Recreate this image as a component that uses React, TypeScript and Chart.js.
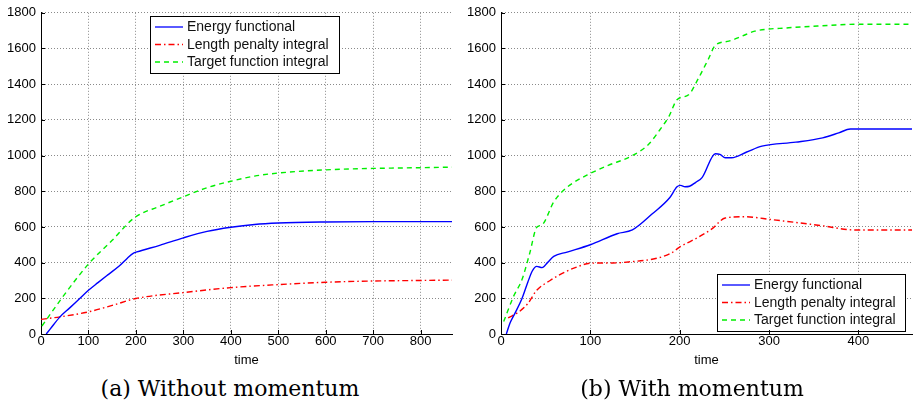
import React, { useEffect, useRef } from "react";
import { Chart, registerables } from "chart.js";

Chart.register(...registerables);

// ---- (a) Without momentum ----
const aEnergyT = [11, 20, 40, 60, 80, 100, 120, 140, 166, 182, 195, 202, 250, 300, 350, 400, 450, 500, 600, 700, 866];
const aEnergyV = [0, 30, 96, 145, 195, 245, 288, 330, 384, 425, 453, 460, 497, 539, 575, 598, 614, 622, 628, 630, 630];
const aLengthT = [0, 40, 100, 150, 200, 300, 400, 500, 600, 700, 800, 866];
const aLengthV = [82, 96, 124, 160, 199, 232, 260, 277, 290, 297, 300, 302];
const aTargetT = [2, 45, 100, 150, 198, 250, 300, 350, 400, 450, 500, 600, 700, 800, 866];
const aTargetV = [45, 205, 392, 525, 654, 715, 769, 820, 856, 885, 902, 920, 928, 932, 935];

// ---- (b) With momentum ----
const bEnergyT = [6, 10, 15, 23.5, 30, 35, 40, 46, 52, 59, 74, 100, 130, 147, 169, 189, 197, 201, 206, 211, 218, 225, 240, 245, 251, 258, 275, 292, 330, 360, 378, 391, 460];
const bEnergyV = [0, 60, 110, 199, 290, 353, 379, 372, 400, 435, 459, 500, 562, 583, 672, 765, 825, 833, 825, 828, 850, 876, 1010, 1007, 988, 988, 1020, 1053, 1075, 1099, 1127, 1149, 1149];
const bLengthT = [8, 20, 30, 40, 55, 68, 83, 101, 125, 143, 173, 190, 200, 220, 236, 251, 273, 303, 330, 359, 396, 460];
const bLengthV = [90, 124, 170, 245, 300, 338, 372, 397, 398, 404, 423, 452, 487, 540, 589, 650, 657, 641, 625, 607, 583, 583];
const bTargetT = [3, 14, 23.5, 32, 40, 46, 59, 70, 81, 98, 120, 146, 165, 180, 188, 197, 210, 221, 232, 240, 255, 270, 284, 322, 359, 400, 460];
const bTargetV = [70, 210, 305, 450, 598, 612, 740, 805, 848, 895, 945, 997, 1062, 1160, 1220, 1313, 1341, 1433, 1540, 1619, 1641, 1670, 1697, 1716, 1727, 1736, 1736];

const seriesLabels = ["Energy functional", "Length penalty integral", "Target function integral"];
const yTicksMax = 1800;
const yStep = 200;
const xStep = 100;
const xTitle = "time";
const captions = ["(a) Without momentum", "(b) With momentum"];

const styles = [
  { color: "#0000ff", dash: [] as number[] },
  { color: "#ff0000", dash: [6, 3, 1.5, 3] },
  { color: "#00ee00", dash: [5, 4] },
];

const pts = (t: number[], v: number[]) => t.map((x, i) => ({ x, y: v[i] }));

const boxLegend = {
  id: "boxLegend",
  afterDraw(chart: any, _args: any, opts: any) {
    if (!opts || !opts.box) return;
    const { ctx } = chart;
    const { x, y, w, h } = opts.box;
    ctx.save();
    ctx.fillStyle = "#fff";
    ctx.fillRect(x, y, w, h);
    ctx.strokeStyle = "#000";
    ctx.lineWidth = 1;
    ctx.strokeRect(x + 0.5, y + 0.5, w, h);
    ctx.font = "14px 'Liberation Sans', Arial, sans-serif";
    ctx.textBaseline = "middle";
    chart.data.datasets.forEach((ds: any, i: number) => {
      const cy = y + 11 + i * 17.5;
      ctx.strokeStyle = ds.borderColor;
      ctx.lineWidth = 1.3;
      ctx.setLineDash(ds.borderDash || []);
      ctx.beginPath();
      ctx.moveTo(x + 5, cy);
      ctx.lineTo(x + 33, cy);
      ctx.stroke();
      ctx.setLineDash([]);
      ctx.fillStyle = "#111";
      ctx.fillText(ds.label, x + 37, cy + 0.5);
    });
    ctx.restore();
  },
};

const innerTicks = {
  id: "innerTicks",
  afterDraw(chart: any) {
    const { ctx, chartArea, scales } = chart;
    ctx.save();
    ctx.strokeStyle = "#000";
    ctx.lineWidth = 1;
    ctx.beginPath();
    scales.x.ticks.forEach((t: any) => {
      const px = Math.round(scales.x.getPixelForValue(t.value)) + 0.5;
      ctx.moveTo(px, chartArea.bottom);
      ctx.lineTo(px, chartArea.bottom - 4);
    });
    scales.y.ticks.forEach((t: any) => {
      const py = Math.round(scales.y.getPixelForValue(t.value)) + 0.5;
      ctx.moveTo(chartArea.left, py);
      ctx.lineTo(chartArea.left + 4, py);
    });
    ctx.stroke();
    ctx.restore();
  },
};

type PanelProps = {
  series: { x: number; y: number }[][];
  xMax: number;
  yAxisWidth: number;
  padRight: number;
  width: number;
  height: number;
  legendBox: { x: number; y: number; w: number; h: number };
};

function Panel({ series, xMax, yAxisWidth, padRight, width, height, legendBox }: PanelProps) {
  const ref = useRef<HTMLCanvasElement | null>(null);
  useEffect(() => {
    if (!ref.current) return;
    const tickFont = { family: "'Liberation Sans', Arial, sans-serif", size: 13 };
    const chart = new Chart(ref.current, {
      type: "line",
      data: {
        datasets: series.map((d, i) => ({
          label: seriesLabels[i],
          data: d,
          borderColor: styles[i].color,
          borderDash: styles[i].dash,
          borderWidth: 1.4,
          pointRadius: 0,
          fill: false,
          cubicInterpolationMode: "monotone" as const,
        })),
      },
      options: {
        animation: false,
        responsive: false,
        layout: { padding: { left: 0, right: padRight, top: 11, bottom: 0 } },
        scales: {
          x: {
            type: "linear",
            min: 0,
            max: xMax,
            afterFit: (s: any) => {
              s.height = 36;
            },
            ticks: { stepSize: xStep, autoSkip: false, includeBounds: false, maxRotation: 0, color: "#000", font: tickFont, padding: 0, callback: (v: any) => String(v) },
            grid: { color: "#8a8a8a", drawTicks: false, lineWidth: 1 },
            border: { color: "#000", width: 1, dash: [1, 2] },
            title: { display: true, text: xTitle, color: "#000", font: { family: "'Liberation Sans', Arial, sans-serif", size: 13 }, padding: { top: 0, bottom: 2 } },
          },
          y: {
            min: 0,
            max: yTicksMax,
            afterFit: (s: any) => {
              s.width = yAxisWidth;
            },
            ticks: { stepSize: yStep, autoSkip: false, color: "#000", font: tickFont, padding: 5, callback: (v: any) => String(v) },
            grid: { color: "#8a8a8a", drawTicks: false, lineWidth: 1 },
            border: { color: "#000", width: 1, dash: [1, 2] },
          },
        },
        plugins: {
          legend: { display: false },
          tooltip: { enabled: false },
          boxLegend: { box: legendBox },
        } as any,
      },
      plugins: [boxLegend, innerTicks],
    });
    return () => chart.destroy();
  }, []);
  return <canvas ref={ref} width={width} height={height} style={{ width, height, display: "block" }} />;
}

const captionStyle: React.CSSProperties = {
  position: "absolute",
  top: 376,
  fontFamily: "'DejaVu Serif', 'Liberation Serif', serif",
  fontSize: 22,
  lineHeight: "26px",
  color: "#000",
  textAlign: "center",
  whiteSpace: "nowrap",
};

export default function App() {
  return (
    <div style={{ position: "absolute", left: 0, top: 0, width: 915, height: 409, background: "#fff", overflow: "hidden" }}>
      <div style={{ position: "absolute", left: 0, top: 0 }}>
        <Panel
          series={[pts(aEnergyT, aEnergyV), pts(aLengthT, aLengthV), pts(aTargetT, aTargetV)]}
          xMax={866}
          yAxisWidth={41}
          padRight={8}
          width={460}
          height={370}
          legendBox={{ x: 150, y: 16, w: 189, h: 57 }}
        />
      </div>
      <div style={{ position: "absolute", left: 457, top: 0 }}>
        <Panel
          series={[pts(bEnergyT, bEnergyV), pts(bLengthT, bLengthV), pts(bTargetT, bTargetV)]}
          xMax={460}
          yAxisWidth={44}
          padRight={3}
          width={458}
          height={370}
          legendBox={{ x: 260, y: 274, w: 188, h: 57 }}
        />
      </div>
      <div style={{ ...captionStyle, left: 30, width: 400 }}>{captions[0]}</div>
      <div style={{ ...captionStyle, left: 492, width: 400 }}>{captions[1]}</div>
    </div>
  );
}
